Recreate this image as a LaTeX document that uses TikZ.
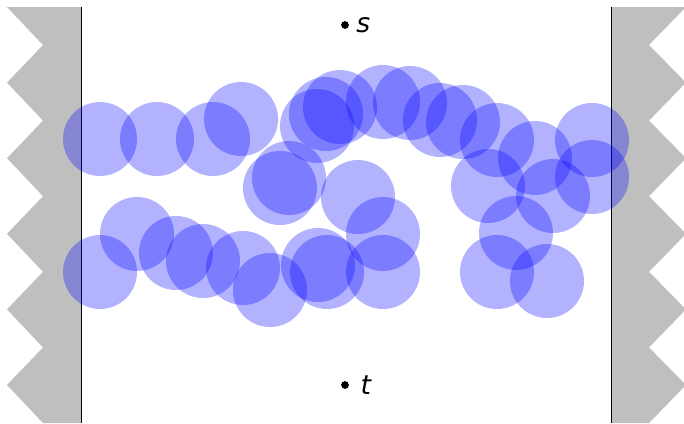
\documentclass[tikz,border=0pt]{standalone}
\usepackage{fontspec}
\newfontfamily\lblfont{DejaVu Sans}
\usepackage{tikz}
\usetikzlibrary{positioning}

\begin{document}
\begin{tikzpicture}[
  x=0.025cm, y=-0.025cm,
  wall/.style={fill=black!25},
  edge/.style={draw=black, line width=0.6pt},
  blob/.style={fill=blue, fill opacity=0.3},
  dot/.style={circle, fill=black, inner sep=0pt, minimum size=5.5pt},
  lbl/.style={font=\lblfont\itshape\fontsize{19}{21}\selectfont, inner sep=1pt}
]
\useasboundingbox (0,0) rectangle (684,423);
% zig-zag walls
\fill[wall] (81,7) -- (7,7)
  \foreach \k in {0,...,4}{ -- (43,{45+75.6*\k}) -- (7,{82.6+75.6*\k}) }
  -- (43,423) -- (81,423) -- cycle;
\fill[wall] (611,7) -- (686,7)
  \foreach \k in {0,...,4}{ -- (649,{45+75.6*\k}) -- (686,{82.6+75.6*\k}) }
  -- (649,423) -- (611,423) -- cycle;
\draw[edge] (81,7) -- (81,423);
\draw[edge] (611,7) -- (611,423);
% discs
\foreach \x/\y in {100/139, 157/139, 213/139, 241/119, 317/126, 326/114,
  340/107, 383/102, 410/103, 440/120, 463/122, 497/140, 535/158, 592/140,
  592/177, 553/196, 488/186, 516/233, 497/272, 547/281, 280/188, 289/178,
  358/197, 383/234, 383/272, 318/265, 327/272, 270/290, 243/268, 203/261,
  176/253, 137/234, 100/272}
  \fill[blob] (\x,\y) circle[radius=37];
% source and sink
\node[dot] (s) at (345,25) {};
\node[lbl, right=4pt of s] (slbl) {s};
\node[dot] (t) at (345,385) {};
\node[lbl, right=7pt of t] (tlbl) {t};
\end{tikzpicture}
\end{document}
